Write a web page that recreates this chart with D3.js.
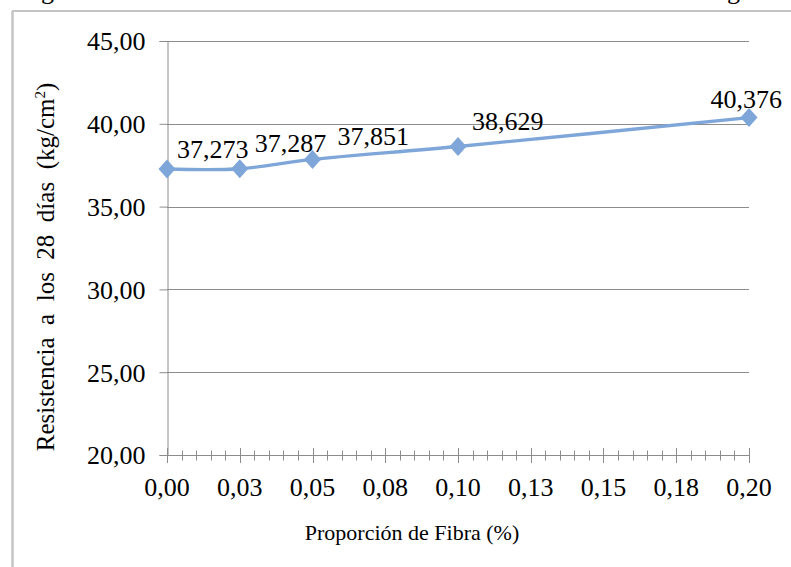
<!DOCTYPE html>
<html>
<head>
<meta charset="utf-8">
<script src="https://cdn.jsdelivr.net/npm/d3@7"></script>
<style>
  html, body { margin: 0; padding: 0; background: #fff; }
  svg { display: block; }
  svg text { font-family: "Liberation Serif", "Times New Roman", Times, serif; fill: #000; }
</style>
</head>
<body>
<svg id="chart" width="791" height="567"></svg>
<script>
// Fibre proportion (%) and 28-day strength (kg/cm²)
const fibra = [0, 0.025, 0.05, 0.10, 0.20];
const resistencia = [37.273, 37.287, 37.851, 38.629, 40.376];
const etiquetas = ["37,273", "37,287", "37,851", "38,629", "40,376"];
const yTicks = [20, 25, 30, 35, 40, 45];
const xTicks = [0, 0.025, 0.05, 0.075, 0.10, 0.125, 0.15, 0.175, 0.20];
const xTickLabels = ["0,00", "0,03", "0,05", "0,08", "0,10", "0,13", "0,15", "0,18", "0,20"];
const xTitle = "Proporción de Fibra (%)";

// label nudges (dx, dy from the marker centre)
const labelNudge = [[10, -11, "start"], [15, -17, "start"], [25, -14, "start"], [14, -17, "start"], [33, -10, "end"]];

const SERIF = "'Liberation Serif', 'Times New Roman', Times, serif";
const svg = d3.select("#chart");
const W = 791, H = 567;
const lineColor = "#7EA6D9";

const x = d3.scaleLinear().domain([0, 0.20]).range([167, 749]);
const y = d3.scaleLinear().domain([20, 45]).range([455, 41]);

// surrounding frame (left and top edges visible)
svg.append("line").attr("x1", 12.5).attr("x2", 12.5).attr("y1", 11).attr("y2", H)
  .attr("stroke", "#C4C4C4").attr("stroke-width", 2.5);
svg.append("line").attr("x1", 12).attr("x2", W).attr("y1", 11).attr("y2", 11)
  .attr("stroke", "#C4C4C4").attr("stroke-width", 2);

// caption line running off the top edge
svg.append("text").attr("x", 41).attr("y", -1).style("font-family", SERIF).style("font-size", "26px").text("g");
svg.append("text").attr("x", 727).attr("y", -1).style("font-family", SERIF).style("font-size", "26px").text("g");

// horizontal gridlines
svg.append("g").selectAll("line").data(yTicks.filter(d => d > 20)).join("line")
  .attr("x1", x(0)).attr("x2", x(0.20))
  .attr("y1", d => Math.round(y(d)) + 0.5).attr("y2", d => Math.round(y(d)) + 0.5)
  .attr("stroke", "#8C8C8C").attr("stroke-width", 1);

// y axis
const yAxis = d3.axisLeft(y).tickValues(yTicks).tickSize(8).tickPadding(14)
  .tickFormat(d => d3.format(".2f")(d).replace(".", ","));
const gy = svg.append("g").attr("transform", `translate(${Math.round(x(0)) + 0.5},0)`).call(yAxis)
  .attr("font-family", SERIF).attr("font-size", 26);
gy.select(".domain").attr("stroke", "#8C8C8C");
gy.selectAll(".tick line").attr("stroke", "#8C8C8C");
gy.selectAll("text").style("font-family", SERIF).style("font-size", "26px").attr("dy", "0.34em");

// x axis: minor ticks every 0.005, major every 0.025
const gxBase = Math.round(y(20)) + 0.5;
const minor = d3.range(0, 41).map(i => i * 0.005);
svg.append("line").attr("x1", x(0)).attr("x2", x(0.20)).attr("y1", gxBase).attr("y2", gxBase)
  .attr("stroke", "#8C8C8C");
svg.append("g").selectAll("line").data(minor).join("line")
  .attr("x1", d => Math.round(x(d)) + 0.5).attr("x2", d => Math.round(x(d)) + 0.5)
  .attr("y1", gxBase - 5).attr("y2", gxBase + 5)
  .attr("stroke", "#8C8C8C");
svg.append("g").selectAll("line").data(xTicks).join("line")
  .attr("x1", d => Math.round(x(d)) + 0.5).attr("x2", d => Math.round(x(d)) + 0.5)
  .attr("y1", gxBase - 7.5).attr("y2", gxBase + 7.5)
  .attr("stroke", "#8C8C8C");
svg.append("g").selectAll("text").data(xTicks).join("text")
  .attr("x", d => x(d)).attr("y", 496)
  .attr("text-anchor", "middle")
  .style("font-family", SERIF).style("font-size", "26px")
  .text((d, i) => xTickLabels[i]);

// axis titles
svg.append("text").attr("x", 412).attr("y", 540).attr("text-anchor", "middle")
  .style("font-family", SERIF).style("font-size", "22px").text(xTitle);

const yTitle = svg.append("text").attr("transform", "translate(54,267) rotate(-90)")
  .attr("text-anchor", "middle")
  .style("font-family", SERIF).style("font-size", "25px").style("white-space", "pre");
yTitle.append("tspan").text("Resistencia  a  los  28  días  (kg/cm");
yTitle.append("tspan").attr("dy", -9).style("font-size", "15px").text("2");
yTitle.append("tspan").attr("dy", 9).text(")");

// smoothed series line
const pts = fibra.map((f, i) => [x(f), y(resistencia[i])]);
svg.append("path").attr("d", d3.line().curve(d3.curveCatmullRom.alpha(0.5))(pts))
  .attr("fill", "none").attr("stroke", lineColor).attr("stroke-width", 3.4)
  .attr("stroke-linejoin", "round");

// diamond markers
svg.append("g").selectAll("path").data(pts).join("path")
  .attr("transform", d => `translate(${d[0]},${d[1]})`)
  .attr("d", "M0,-9.5L8.5,0L0,9.5L-8.5,0Z")
  .attr("fill", lineColor);

// value labels
svg.append("g").selectAll("text").data(pts).join("text")
  .attr("x", (d, i) => d[0] + labelNudge[i][0])
  .attr("y", (d, i) => d[1] + labelNudge[i][1])
  .attr("text-anchor", (d, i) => labelNudge[i][2])
  .style("font-family", SERIF).style("font-size", "26px")
  .text((d, i) => etiquetas[i]);
</script>
</body>
</html>
